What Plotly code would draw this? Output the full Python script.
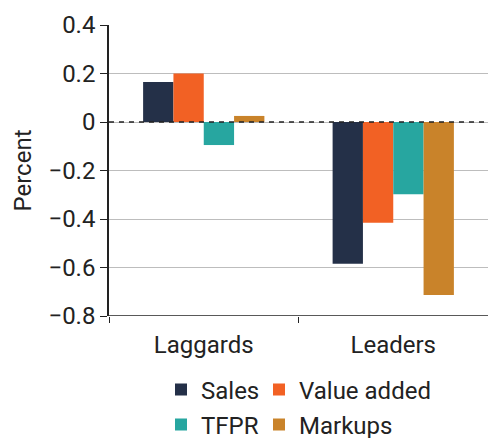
import plotly.graph_objects as go

categories = ["Laggards", "Leaders"]
series_names = ["Sales", "Value added", "TFPR", "Markups"]
sales = [0.165, -0.585]
value_added = [0.20, -0.415]
tfpr = [-0.095, -0.298]
markups = [0.025, -0.713]
series_values = [sales, value_added, tfpr, markups]
colors = ["#243048", "#F26124", "#27A6A0", "#C9832A"]
y_ticks = [0.4, 0.2, 0, -0.2, -0.4, -0.6, -0.8]
y_tick_labels = ["0.4", "0.2", "0", "\u22120.2", "\u22120.4", "\u22120.6", "\u22120.8"]

FONT = "Roboto"
TEXT = "#222222"
FS = 24

# one legend box per entry so the 2x2 key lines up in columns
legend_ids = ["legend", "legend2", "legend3", "legend4"]
legend_pos = [(161, 390), (259, 390), (161, 425), (259, 425)]

fig = go.Figure()
for name, vals, col, lid in zip(series_names, series_values, colors, legend_ids):
    fig.add_trace(go.Bar(
        x=categories, y=vals, name=name, marker_color=col,
        marker_line_width=0, legend=lid,
    ))

# dashed zero line
fig.add_shape(type="line", xref="paper", yref="y", x0=0, x1=1, y0=0, y1=0,
              line=dict(color="#222222", width=1.5, dash="5px,5px"), layer="above")

# bottom axis line at -0.8
fig.add_shape(type="line", xref="paper", yref="y", x0=0, x1=1, y0=-0.8, y1=-0.8,
              line=dict(color="#222222", width=1.5), layer="above")

W, H = 488, 438
legends = {}
for lid, (px, py) in zip(legend_ids, legend_pos):
    legends[lid] = dict(
        orientation="h", xanchor="left", yanchor="middle",
        xref="container", yref="container",
        x=px / W, y=1 - py / H,
        font=dict(family=FONT, size=FS, color=TEXT),
        itemwidth=30, tracegroupgap=0, bgcolor="rgba(0,0,0,0)",
    )

fig.update_layout(
    width=W, height=H,
    margin=dict(l=109, r=0, t=25, b=122),
    paper_bgcolor="white", plot_bgcolor="white",
    barmode="group", bargap=0.36, bargroupgap=0,
    font=dict(family=FONT, size=FS, color=TEXT),
    showlegend=True,
    **legends,
    xaxis=dict(
        showline=False, ticks="outside", tickson="boundaries", ticklen=6,
        tickcolor="#222222", tickfont=dict(family=FONT, size=FS, color=TEXT),
        ticklabelstandoff=12,
        showgrid=False,
    ),
    yaxis=dict(
        range=[-0.8, 0.4], tickvals=y_ticks, ticktext=y_tick_labels,
        showline=True, linecolor="#222222", linewidth=1.5,
        ticks="outside", ticklen=7, tickcolor="#222222",
        showgrid=True, gridcolor="#bdbdbd", gridwidth=1,
        zeroline=False,
        tickfont=dict(family=FONT, size=FS, color=TEXT),
        title=dict(text="Percent", font=dict(family=FONT, size=FS, color=TEXT), standoff=10),
    ),
)

fig.write_html("out.html")
